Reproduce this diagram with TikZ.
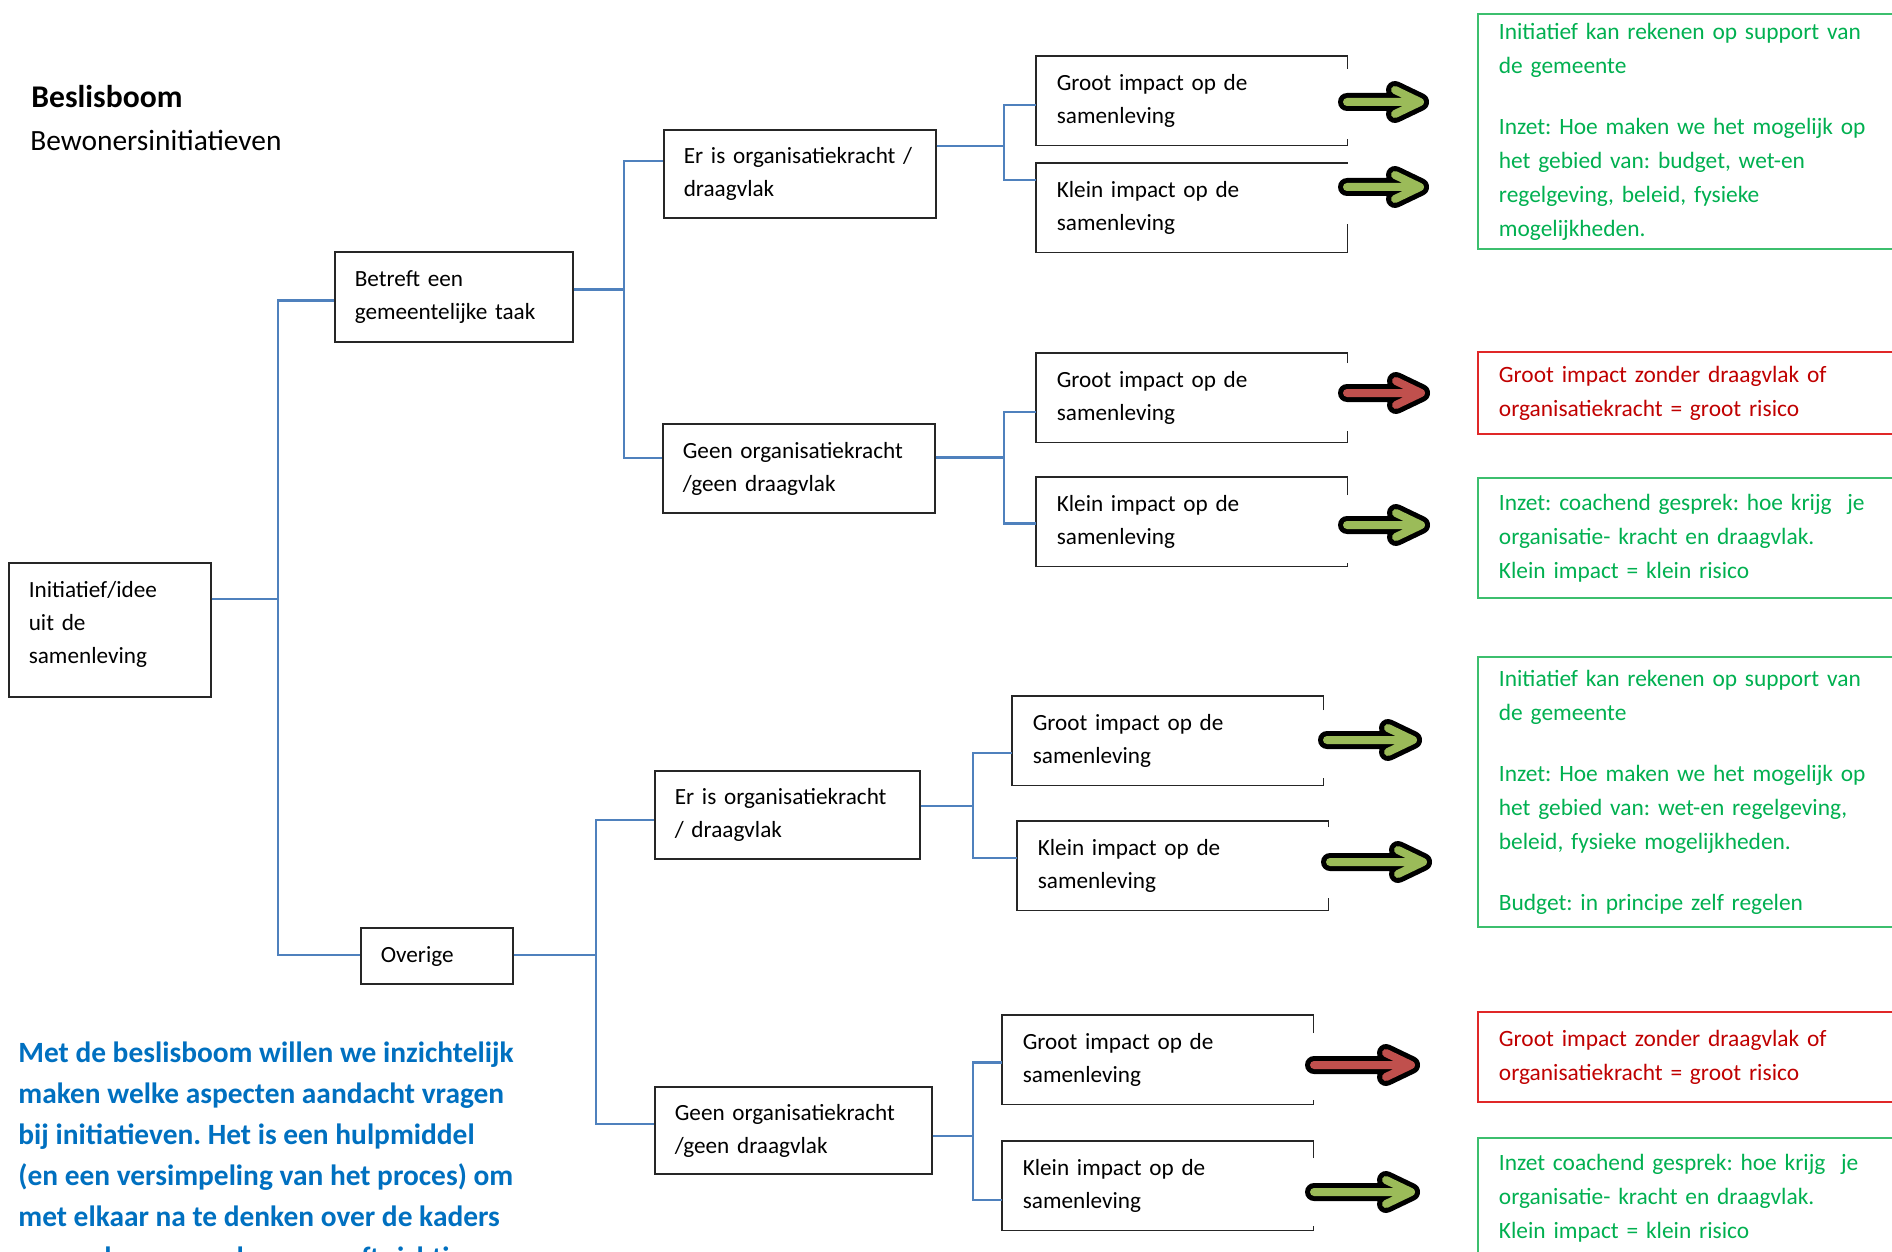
\documentclass[tikz,border=0pt]{standalone}
\usepackage{fontspec}
\setmainfont{Carlito}
\usetikzlibrary{calc}
\frenchspacing

\definecolor{takblauw}{HTML}{4F81BD}
\definecolor{pijlgroen}{HTML}{9BBB59}
\definecolor{pijlrood}{HTML}{C0504D}
\definecolor{tekstgroen}{HTML}{00B050}
\definecolor{randgroen}{HTML}{3CBF6E}
\definecolor{tekstrood}{HTML}{C00000}
\definecolor{randrood}{HTML}{E02828}
\definecolor{tekstblauw}{HTML}{0070C0}

\tikzset{
	vak/.style 2 args={draw=black!85, line width=0.8bp, anchor=north west, inner xsep=10bp, inner ysep=0pt,
		text width=#1, minimum height=#2, align=left, font=\fontsize{11.6bp}{16.5bp}\selectfont,
		execute at begin node=\strut, execute at end node=\strut},
	blad/.style={vak={135bp}{44bp}, draw=none},
	rand/.style={draw=black!85, line width=0.8bp},
	tak/.style={draw=takblauw, line width=1.1bp},
	uitkomst/.style={line width=0.9bp, anchor=north west, inner xsep=10.5bp, inner ysep=0pt, text width=230bp,
		align=left, font=\fontsize{11.7bp}{17bp}\selectfont,
		execute at begin node=\strut, execute at end node=\strut},
	groenvak/.style={uitkomst, draw=randgroen, text=tekstgroen},
	roodvak/.style={uitkomst, draw=randrood, text=tekstrood},
	pijlrand/.style={draw=black, line width=9bp, line cap=round, line join=round},
	pijlkern/.style={draw=#1, line width=4bp, line cap=round, line join=round}
}

\begin{document}
\begin{tikzpicture}[x=0.5bp, y=-0.5bp]
	\clip (0,0) rectangle (1892,1252);
	\fill[white] (0,0) rectangle (1892,1252);

	% titel
	\node[anchor=base west, inner sep=0pt, font=\bfseries\fontsize{15.8bp}{19bp}\selectfont] (titel) at (31,108) {Beslisboom};
	\node[anchor=base west, inner sep=0pt, font=\fontsize{14.7bp}{17bp}\selectfont] (subtitel) at (30,151) {Bewonersinitiatieven};

	% boom
	\node[vak={81bp}{67bp}] (idee) at (8,562) {Initiatief/idee\\uit de\\samenleving\rule[-11bp]{0pt}{0pt}};
	\node[vak={99bp}{45bp}] (betreft) at (334,251) {Betreft een\\gemeentelijke taak};
	\node[vak={56bp}{28bp}] (overige) at (360,927) {Overige};
	\node[vak={116bp}{44bp}] (e1) at (663,129) {Er is organisatiekracht~/\\draagvlak};
	\node[vak={116bp}{44.5bp}] (g1) at (662,423) {Geen organisatiekracht\\/geen draagvlak};
	\node[vak={112.5bp}{44bp}] (e2) at (654,770) {Er is organisatiekracht\\/ draagvlak};
	\node[vak={118.5bp}{43.5bp}] (g2) at (654,1086) {Geen organisatiekracht\\/geen draagvlak};

	\node[blad] (l1) at (1036,56) {Groot impact op de\\samenleving};
	\node[blad] (l2) at (1036,163) {Klein impact op de\\samenleving};
	\node[blad] (l3) at (1036,353) {Groot impact op de\\samenleving};
	\node[blad] (l4) at (1036,477) {Klein impact op de\\samenleving};
	\node[blad] (l5) at (1012,696) {Groot impact op de\\samenleving};
	\node[blad] (l6) at (1017,821) {Klein impact op de\\samenleving};
	\node[blad] (l7) at (1002,1015) {Groot impact op de\\samenleving};
	\node[blad] (l8) at (1002,1141) {Klein impact op de\\samenleving};

	% randen van de bladen, rechts open
	\foreach \n/\a/\b in {l1/13/7, l2/0/29, l3/10/12, l4/18/4, l5/14/8, l6/6/13, l7/18/5, l8/17/5}
		\draw[rand] ($(\n.north east)+(0,\a)$) -- (\n.north east) -- (\n.north west) -- (\n.south west) -- (\n.south east) -- ($(\n.south east)+(0,-\b)$);

	% takken
	\foreach \a/\fa/\dx/\b/\fb in {idee/.27/66/betreft/.54, idee/.27/66/overige/.48,
		betreft/.42/50/e1/.36, betreft/.42/50/g1/.39, e1/.19/67/l1/.55, e1/.19/67/l2/.19,
		g1/.38/68/l3/.66, g1/.38/68/l4/.52, overige/.48/82/e2/.56, overige/.48/82/g2/.43,
		e2/.40/52/l5/.64, e2/.40/52/l6/.41, g2/.56/40/l7/.53, g2/.56/40/l8/.66}
		\draw[tak] ($(\a.north east)!\fa!(\a.south east)$) -- ++(\dx,0) |- ($(\b.north west)!\fb!(\b.south west)$);

	% pijlen
	\foreach \y/\xa/\xb/\kl in {102/1347/1420/pijlgroen, 187/1347/1420/pijlgroen, 393/1347/1421/pijlrood,
		525/1347/1421/pijlgroen, 740/1327/1413/pijlgroen, 862/1330/1423/pijlgroen,
		1065/1314/1411/pijlrood, 1192/1314/1411/pijlgroen} {
		\draw[pijlrand] (\xa,\y) -- (\xb,\y) (\xb-25,\y-12) -- (\xb,\y) -- (\xb-25,\y+12);
		\draw[pijlkern=\kl] (\xa,\y) -- (\xb,\y) (\xb-25,\y-12) -- (\xb,\y) -- (\xb-25,\y+12);
	}

	% uitkomsten
	\node[groenvak, minimum height=117.5bp] (r1) at (1477,13) {Initiatief kan rekenen op support van\\de gemeente\\[13.5bp]Inzet: Hoe maken we het mogelijk op\\het gebied van: budget, wet-en\\regelgeving, beleid, fysieke\\mogelijkheden.};
	\node[roodvak, minimum height=41bp] (r2) at (1477,351) {Groot impact zonder draagvlak of\\organisatiekracht = groot risico};
	\node[groenvak, minimum height=60bp] (r3) at (1477,477) {Inzet: coachend gesprek: hoe krijg\ \ je\\organisatie- kracht en draagvlak.\\Klein impact = klein risico};
	\node[groenvak, minimum height=135bp] (r4) at (1477,656) {Initiatief kan rekenen op support van\\de gemeente\\[13.5bp]Inzet: Hoe maken we het mogelijk op\\het gebied van: wet-en regelgeving,\\beleid, fysieke mogelijkheden.\\[13.5bp]Budget: in principe zelf regelen};
	\node[roodvak, minimum height=45bp] (r5) at (1477,1011) {Groot impact zonder draagvlak of\\organisatiekracht = groot risico};
	\node[groenvak, minimum height=60bp] (r6) at (1477,1137) {Inzet coachend gesprek: hoe krijg\ \ je\\organisatie- kracht en draagvlak.\\Klein impact = klein risico};

	% uitleg
	\node[anchor=north west, inner sep=0pt, align=left, text=tekstblauw, font=\bfseries\fontsize{14.7bp}{20.5bp}\selectfont]
		(uitleg) at (18,1041) {Met de beslisboom willen we inzichtelijk\\maken welke aspecten aandacht vragen\\bij initiatieven. Het is een hulpmiddel\\(en een versimpeling van het proces) om\\met elkaar na te denken over de kaders\\en randvoorwaarden en geeft richting.};
\end{tikzpicture}
\end{document}
